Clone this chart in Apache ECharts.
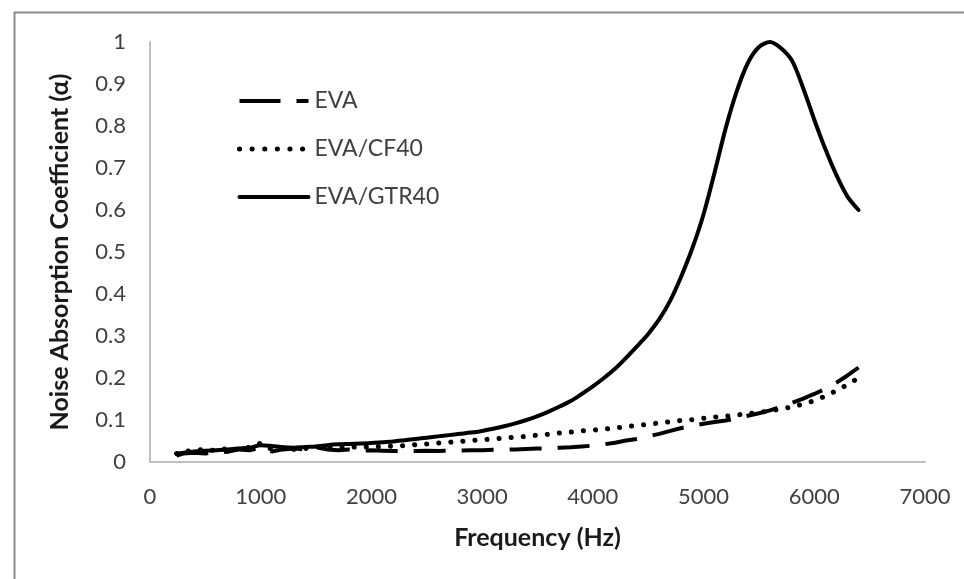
<!DOCTYPE html>
<html>
<head>
<meta charset="utf-8">
<script src="https://cdn.jsdelivr.net/npm/echarts@6/dist/echarts.min.js"></script>
<style>
html,body{margin:0;padding:0;background:#fff;}
#chart{width:964px;height:579px;}
</style>
</head>
<body>
<div id="chart"></div>
<script>
const frequency = [240,300,400,500,600,700,800,900,1000,1100,1200,1300,1400,1500,1600,1700,1800,1900,2000,2100,2200,2300,2400,2500,2600,2700,2800,2900,3000,3100,3200,3300,3400,3500,3600,3700,3800,3900,4000,4100,4200,4300,4400,4500,4600,4700,4800,4900,5000,5100,5200,5300,5400,5500,5600,5700,5800,5900,6000,6100,6200,6300,6400];

const eva = [0.015,0.020,0.022,0.020,0.025,0.024,0.030,0.028,0.035,0.025,0.030,0.032,0.030,0.035,0.030,0.028,0.030,0.027,0.028,0.027,0.026,0.027,0.026,0.027,0.026,0.027,0.027,0.028,0.028,0.029,0.029,0.030,0.031,0.032,0.033,0.034,0.035,0.037,0.039,0.042,0.046,0.051,0.055,0.061,0.067,0.074,0.081,0.086,0.091,0.095,0.099,0.104,0.110,0.116,0.123,0.132,0.141,0.151,0.162,0.174,0.189,0.206,0.225];

const evaCF40 = [0.020,0.025,0.028,0.030,0.027,0.032,0.030,0.035,0.045,0.030,0.035,0.030,0.032,0.036,0.035,0.034,0.035,0.036,0.036,0.037,0.038,0.039,0.041,0.043,0.045,0.047,0.049,0.051,0.053,0.055,0.057,0.059,0.061,0.064,0.066,0.069,0.071,0.074,0.076,0.078,0.081,0.084,0.087,0.090,0.093,0.096,0.099,0.101,0.104,0.107,0.109,0.112,0.115,0.118,0.122,0.126,0.131,0.138,0.146,0.157,0.170,0.184,0.200];

const evaGTR40 = [0.020,0.022,0.025,0.027,0.028,0.030,0.032,0.034,0.040,0.038,0.035,0.034,0.036,0.037,0.040,0.042,0.043,0.044,0.045,0.047,0.049,0.052,0.055,0.058,0.061,0.064,0.067,0.070,0.074,0.079,0.085,0.092,0.100,0.109,0.120,0.132,0.145,0.162,0.180,0.200,0.222,0.248,0.276,0.305,0.340,0.385,0.443,0.510,0.590,0.690,0.795,0.883,0.950,0.988,1.000,0.985,0.955,0.890,0.815,0.745,0.683,0.632,0.600];

const seriesNames = ['EVA','EVA/CF40','EVA/GTR40'];
const xTicks = [0,1000,2000,3000,4000,5000,6000,7000];
const yTicks = [0,0.1,0.2,0.3,0.4,0.5,0.6,0.7,0.8,0.9,1];

function pairs(vals){ return frequency.map((f,i)=>[f, vals[i]]); }

const FONT = 'Lato';
const chart = echarts.init(document.getElementById('chart'), null, {renderer:'canvas'});
chart.setOption({
  backgroundColor:'#ffffff',
  animation:false,
  graphic:[{
    type:'rect', left:12, top:10, shape:{x:0,y:0,width:1000,height:620},
    style:{fill:'none', stroke:'#8c8c8c', lineWidth:2}, silent:true
  }],
  grid:{left:150, right:39, top:42, bottom:117, containLabel:false},
  legend:{
    orient:'vertical', left:232, top:84,
    itemWidth:69, itemHeight:24, itemGap:24,
    textStyle:{fontFamily:FONT, fontSize:23, color:'#404040', lineHeight:24, padding:[0,0,0,1]},
    data:[
      {name:seriesNames[0], lineStyle:{type:[41,16], width:4, color:'#000', cap:'butt'}},
      {name:seriesNames[1], lineStyle:{type:[0.1,12.5], width:5, color:'#000', cap:'round'}},
      {name:seriesNames[2], lineStyle:{type:'solid', width:4, color:'#000'}}
    ],
    itemStyle:{opacity:0}
  },
  xAxis:{
    type:'value', min:xTicks[0], max:xTicks[xTicks.length-1], interval:1000,
    name:'Frequency (Hz)', nameLocation:'middle', nameGap:63,
    nameTextStyle:{fontFamily:FONT, fontSize:25, fontWeight:'bold', color:'#1a1a1a'},
    axisLine:{show:true, lineStyle:{color:'#bfbfbf', width:2}},
    axisTick:{show:false},
    splitLine:{show:false},
    axisLabel:{fontFamily:FONT, fontSize:22, color:'#404040', margin:24,
      formatter:function(v){ return String(v); }}
  },
  yAxis:{
    type:'value', min:yTicks[0], max:yTicks[yTicks.length-1], interval:0.1,
    name:'Noise Absorption Coefficient (\u03B1)', nameLocation:'middle', nameGap:78, nameRotate:90,
    nameTextStyle:{fontFamily:FONT, fontSize:25, fontWeight:'bold', color:'#1a1a1a'},
    axisLine:{show:true, lineStyle:{color:'#bfbfbf', width:2}},
    axisTick:{show:false},
    splitLine:{show:false},
    axisLabel:{fontFamily:FONT, fontSize:22, color:'#404040', margin:24,
      formatter:function(v){ return String(Math.round(v*10)/10); }}
  },
  series:[
    {name:seriesNames[0], type:'line', data:pairs(eva), symbol:'none', showSymbol:false,
     lineStyle:{color:'#000', width:4, type:[32,16], cap:'butt'}, itemStyle:{color:'#000'}, z:3},
    {name:seriesNames[1], type:'line', data:pairs(evaCF40), symbol:'none', showSymbol:false,
     lineStyle:{color:'#000', width:5, type:[0.1,12], cap:'round'}, itemStyle:{color:'#000'}, z:3},
    {name:seriesNames[2], type:'line', data:pairs(evaGTR40), symbol:'none', showSymbol:false, smooth:0.3,
     lineStyle:{color:'#000', width:4, type:'solid', cap:'round', join:'round'}, itemStyle:{color:'#000'}, z:4}
  ]
});
</script>
</body>
</html>
